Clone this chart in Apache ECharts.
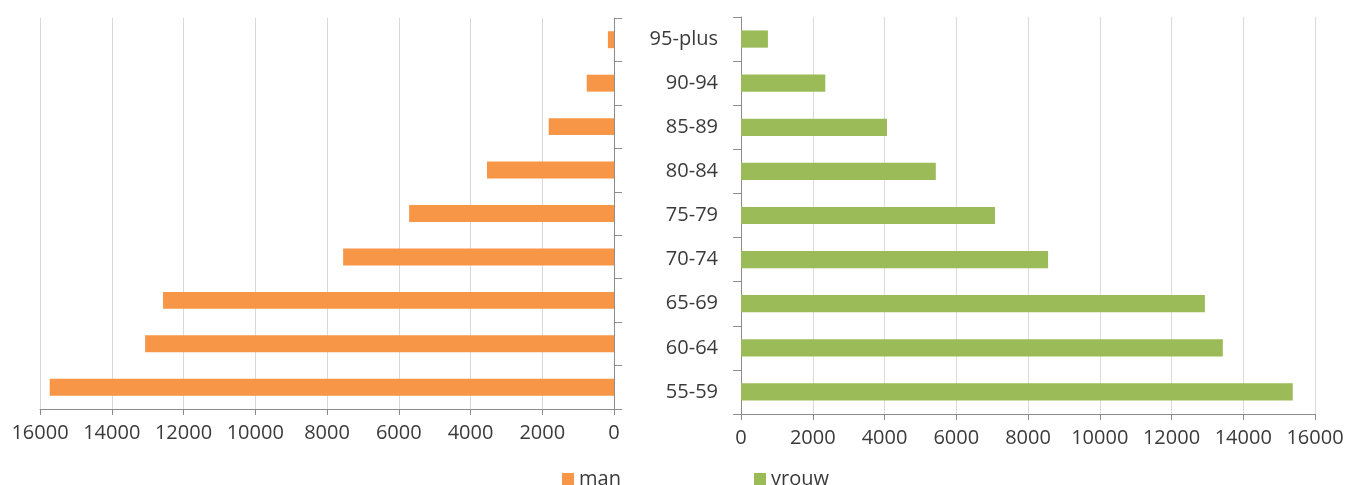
<!DOCTYPE html>
<html>
<head>
<meta charset="utf-8">
<script src="https://cdn.jsdelivr.net/npm/echarts@6/dist/echarts.min.js"></script>
<style>
  html, body { margin: 0; padding: 0; background: #fff; }
  #chart { width: 1350px; height: 485px; }
</style>
</head>
<body>
<div id="chart"></div>
<script>
// leeftijdsgroepen, van onder naar boven
const ageGroups = ['55-59', '60-64', '65-69', '70-74', '75-79', '80-84', '85-89', '90-94', '95-plus']
const manValues = [15730, 13070, 12570, 7550, 5710, 3540, 1820, 760, 170]
const vrouwValues = [15380, 13430, 12930, 8560, 7080, 5430, 4070, 2350, 750]
const xTicks = { min: 0, max: 16000, interval: 2000 }

const font = 'Open Sans'
const textColor = '#3a3a3a'
const axisColor = '#8c8c8c'
const gridColor = '#d9d9d9'

const chart = echarts.init(document.getElementById('chart'))

const valueAxis = (gridIndex, inverse) => ({
  type: 'value',
  gridIndex,
  inverse,
  min: xTicks.min,
  max: xTicks.max,
  interval: xTicks.interval,
  axisLine: { show: true, lineStyle: { color: axisColor } },
  axisTick: { show: true, length: 6, lineStyle: { color: axisColor } },
  axisLabel: {
    color: textColor, fontFamily: font, fontSize: 20, margin: 14,
    formatter: v => String(v)
  },
  splitLine: { show: true, lineStyle: { color: gridColor } }
})

const catAxis = (gridIndex, position, showLabel) => ({
  type: 'category',
  gridIndex,
  position,
  data: ageGroups,
  axisLine: { show: true, lineStyle: { color: axisColor } },
  axisTick: { show: true, length: 8, lineStyle: { color: axisColor } },
  axisLabel: { show: showLabel, color: textColor, fontFamily: font, fontSize: 20, margin: 23 },
  splitLine: { show: false }
})

chart.setOption({
  animation: false,
  grid: [
    { left: 40, width: 574, top: 18, height: 391 },
    { left: 741, width: 574, top: 17, height: 397 }
  ],
  xAxis: [valueAxis(0, true), valueAxis(1, false)],
  yAxis: [catAxis(0, 'right', false), catAxis(1, 'left', true)],
  legend: [
    {
      data: ['man'], left: 557, top: 464, icon: 'rect', itemWidth: 12, itemHeight: 12, itemGap: 5,
      textStyle: { color: textColor, fontFamily: font, fontSize: 20 }
    },
    {
      data: ['vrouw'], left: 749, top: 464, icon: 'rect', itemWidth: 12, itemHeight: 12, itemGap: 5,
      textStyle: { color: textColor, fontFamily: font, fontSize: 20 }
    }
  ],
  series: [
    {
      name: 'man', type: 'bar', xAxisIndex: 0, yAxisIndex: 0,
      data: manValues, barWidth: '39%', itemStyle: { color: '#f79646' }
    },
    {
      name: 'vrouw', type: 'bar', xAxisIndex: 1, yAxisIndex: 1,
      data: vrouwValues, barWidth: '39%', itemStyle: { color: '#9bbb59' }
    }
  ]
})
</script>
</body>
</html>
